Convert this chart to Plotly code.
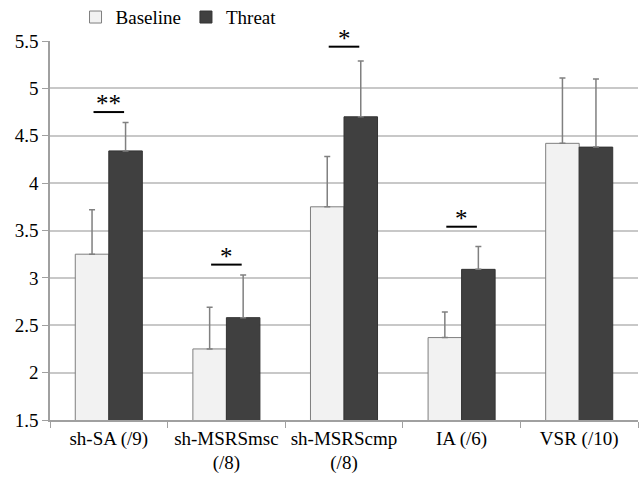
import plotly.graph_objects as go

categories = ["sh-SA (/9)", "sh-MSRSmsc<br>(/8)", "sh-MSRScmp<br>(/8)", "IA (/6)", "VSR (/10)"]
baseline = [3.25, 2.25, 3.75, 2.37, 4.42]
baseline_err = [0.47, 0.44, 0.53, 0.27, 0.69]
threat = [4.34, 2.58, 4.70, 3.09, 4.38]
threat_err = [0.30, 0.45, 0.59, 0.24, 0.72]
sig_labels = ["**", "*", "*", "*", ""]
sig_y = [4.75, 3.14, 5.44, 3.54, None]
y_ticks = [1.5, 2, 2.5, 3, 3.5, 4, 4.5, 5, 5.5]
y_ticktext = ["1.5", "2", "2.5", "3", "3.5", "4", "4.5", "5", "5.5"]

FONT = "Liberation Serif, Times New Roman, serif"

fig = go.Figure()
fig.add_trace(go.Bar(
    name="Baseline", x=categories, y=baseline,
    marker=dict(color="#f2f2f2", line=dict(color="#7f7f7f", width=1)),
    error_y=dict(type="data", symmetric=False, array=baseline_err,
                 arrayminus=[0] * len(baseline_err),
                 color="#808080", thickness=1.5, width=3),
))
fig.add_trace(go.Bar(
    name="Threat", x=categories, y=threat,
    marker=dict(color="#404040", line=dict(color="#333333", width=1)),
    error_y=dict(type="data", symmetric=False, array=threat_err,
                 arrayminus=[0] * len(threat_err),
                 color="#808080", thickness=1.5, width=3),
))

for i, (lab, yv) in enumerate(zip(sig_labels, sig_y)):
    if not lab:
        continue
    fig.add_shape(type="line", xref="x", yref="y",
                  x0=i - 0.13, x1=i + 0.13, y0=yv, y1=yv,
                  line=dict(color="black", width=2))
    fig.add_annotation(x=i, y=yv, xref="x", yref="y", text=lab,
                       showarrow=False, yanchor="bottom", yshift=-7,
                       font=dict(family=FONT, size=25, color="black"))

fig.update_layout(
    width=640, height=477,
    margin=dict(l=50, r=2, t=41, b=57, autoexpand=False),
    paper_bgcolor="white", plot_bgcolor="white",
    barmode="group", bargap=0.43, bargroupgap=0,
    font=dict(family=FONT, size=19, color="black"),
    showlegend=True,
    legend=dict(orientation="h", xref="container", x=0.118, xanchor="left",
                yref="container", y=0.964, yanchor="middle",
                font=dict(family=FONT, size=19), itemwidth=30,
                bgcolor="rgba(0,0,0,0)"),
    xaxis=dict(type="category", tickson="boundaries", ticks="outside", ticklen=6,
               tickcolor="#a0a0a0", showgrid=False, showline=True,
               linecolor="#a0a0a0", linewidth=1.5,
               tickfont=dict(family=FONT, size=19)),
    yaxis=dict(range=[1.5, 5.5], tickvals=y_ticks, ticktext=y_ticktext,
               ticks="outside", ticklen=6, tickcolor="#a0a0a0",
               showgrid=True, gridcolor="#c8c8c8", gridwidth=1.5,
               showline=True, linecolor="#a0a0a0", linewidth=1.5,
               zeroline=False, tickfont=dict(family=FONT, size=19)),
)

fig.write_html("out.html", config={"displayModeBar": False},
               post_script="document.body.style.margin='0';document.body.style.overflow='hidden';")
